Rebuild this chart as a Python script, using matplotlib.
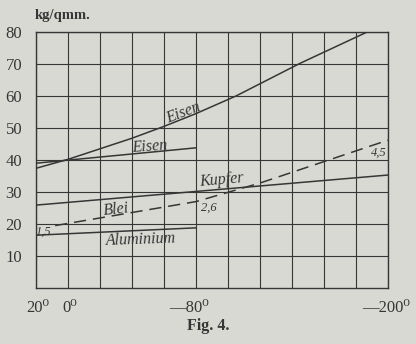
import matplotlib.pyplot as plt

# temperatures in deg C, values in kg/qmm
eisen1_t = [20, 0, -40, -60, -80, -105, -145, -187]
eisen1_v = [37.4, 40.2, 46.8, 50.5, 54.5, 60.0, 70.2, 80.0]
eisen2_t = [20, -80]
eisen2_v = [39.0, 43.8]
kupfer_t = [20, -200]
kupfer_v = [25.9, 35.3]
blei_t = [8, -80, -120, -200]
blei_v = [19.5, 27.0, 32.8, 46.2]
alu_t = [20, -80]
alu_v = [16.5, 18.8]

y_ticks = [10, 20, 30, 40, 50, 60, 70, 80]
x_labels = [(20, "20⁰"), (0, "0⁰"), (-80, "—80⁰"), (-200, "—200⁰")]

paper = "#d9d9d4"
ink = "#363636"
serif = ["Liberation Serif", "DejaVu Serif"]

fig = plt.figure(figsize=(4.16, 3.44), dpi=100, facecolor=paper)
ax = fig.add_axes([0.0865, 0.1628, 0.8462, 0.7442], facecolor=paper)

ax.set_xlim(20, -200)
ax.set_ylim(0, 80)
ax.set_xticks(range(20, -201, -20))
ax.set_xticklabels([])
ax.set_yticks(y_ticks)
ax.set_yticklabels([str(v) for v in y_ticks], family=serif, fontsize=12, color=ink)
ax.tick_params(length=0, pad=10)
ax.grid(True, color=ink, lw=0.8)
for s in ax.spines.values():
    s.set_color(ink)
    s.set_linewidth(1.0)

lw = 1.1
ax.plot(eisen1_t, eisen1_v, color=ink, lw=lw)
ax.plot(eisen2_t, eisen2_v, color=ink, lw=lw)
ax.plot(kupfer_t, kupfer_v, color=ink, lw=lw)
ax.plot(alu_t, alu_v, color=ink, lw=lw)
ax.plot(blei_t, blei_v, color=ink, lw=lw, dashes=(8, 4.5))

# handwritten curve names sit on their lines
hand = dict(family=serif, style="italic", color=ink, fontsize=11.5,
            ha="center", va="center")
ax.text(-72, 54.6, "Eisen", rotation=21, **hand)
ax.text(-51, 44.2, "Eisen", rotation=4, **hand)
ax.text(-96, 33.8, "Kupfer", rotation=5, **hand)
ax.text(-30.5, 24.6, "Blei", rotation=6, **hand)
ax.text(-45.5, 15.0, "Aluminium", rotation=2, **hand)
num = dict(hand, fontsize=9)
ax.text(15.5, 17.7, "1,5", **num)
ax.text(-88, 25.0, "2,6", **num)
ax.text(-194, 42.3, "4,5", **num)

# x labels: dash hangs to the left of the number
offsets = {20: 1, 0: 1, -80: 9, -200: 16}
for t, lab in x_labels:
    ax.annotate(lab, (t, 0), xytext=(offsets[t], -9), textcoords="offset points",
                ha="right" if t < 0 else "center", va="top", family=serif,
                fontsize=12, color=ink, annotation_clip=False)

fig.text(0.084, 0.956, "kg/qmm.", family=serif, fontsize=10.5, weight="bold",
         color=ink, ha="left", va="center")
fig.text(0.5, 0.052, "Fig. 4.", family=serif, fontsize=11.5, weight="bold",
         color=ink, ha="center", va="center")

fig.savefig("out.png", dpi=100, facecolor=paper)
